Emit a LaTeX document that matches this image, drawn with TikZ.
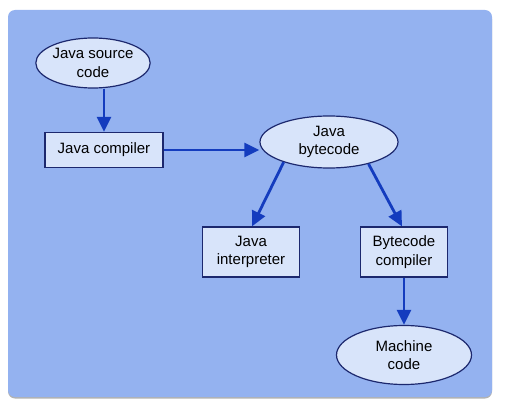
\documentclass[tikz,border=0pt]{standalone}
\usepackage{fontspec}
\setmainfont{Liberation Sans}
\usepackage{xcolor}
\usetikzlibrary{arrows.meta, shapes.geometric}
\definecolor{panelblue}{RGB}{148,178,240}
\definecolor{boxfill}{RGB}{216,228,250}
\definecolor{edgenavy}{RGB}{28,40,110}
\definecolor{arrowblue}{RGB}{20,60,190}

\begin{document}
\begin{tikzpicture}[x=1pt, y=-1pt, >={Triangle[length=15pt, width=14pt]},
    stage/.style={draw=edgenavy, line width=1.2pt, fill=boxfill, inner sep=0pt,
      align=center, font=\fontsize{15}{18.5}\selectfont},
    blob/.style={stage, ellipse},
    flow/.style={->, arrowblue, line width=2.8pt}]
  \useasboundingbox (0,0) rectangle (506,409);
  % panel with a faint shadow under it
  \fill[black!30, rounded corners=7pt] (8,12) rectangle (492,398.5);
  \fill[panelblue, rounded corners=7pt] (8,10) rectangle (492,397);
  \node[blob, minimum width=114pt, minimum height=50pt] (source) at (93,63) {Java source\\code};
  \node[stage, minimum width=118pt, minimum height=35pt] (javac) at (104,150) {Java compiler};
  \node[blob, minimum width=138pt, minimum height=52pt] (bytecode) at (329,142) {Java\\bytecode};
  \node[stage, minimum width=97pt, minimum height=50pt] (interp) at (251,252) {Java\\interpreter};
  \node[stage, minimum width=87pt, minimum height=50pt] (bcomp) at (404,252) {Bytecode\\compiler};
  \node[blob, minimum width=135pt, minimum height=59pt] (machine) at (404,355) {Machine\\code};
  \draw[flow] (javac.north |- source.south) -- (javac.north);
  \draw[flow] (javac.east) -- (bytecode.west |- javac.east);
  \draw[flow] (bytecode.204) -- ([xshift=1pt]interp.north);
  \draw[flow] (bytecode.331) -- ([xshift=-2pt]bcomp.north);
  \draw[flow] (bcomp) -- (machine);
\end{tikzpicture}
\end{document}
